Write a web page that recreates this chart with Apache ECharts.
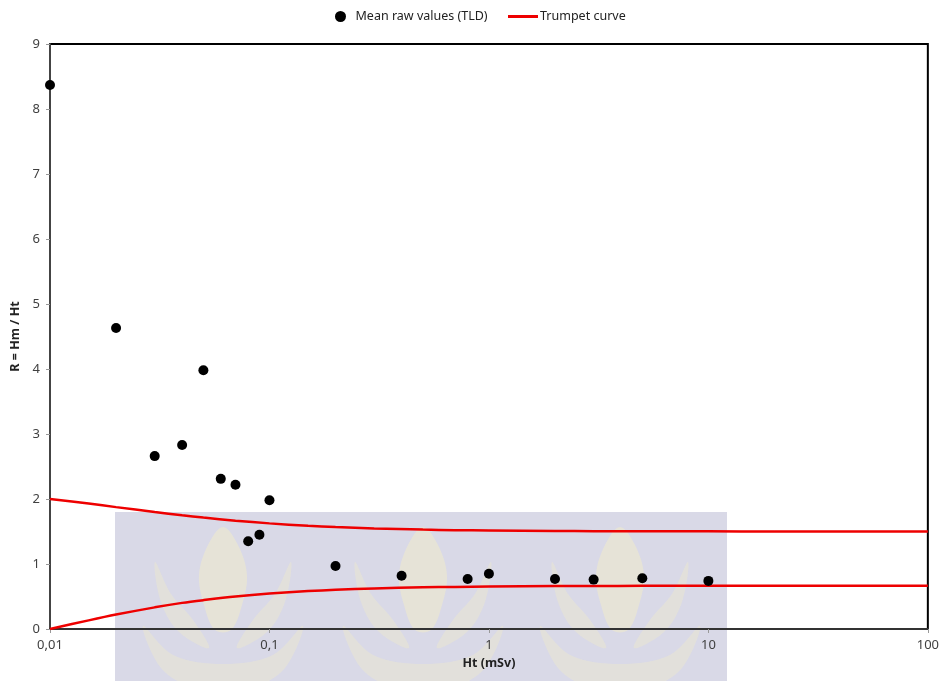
<!DOCTYPE html>
<html>
<head>
<meta charset="utf-8">
<script src="https://cdn.jsdelivr.net/npm/echarts@6/dist/echarts.min.js"></script>
<style>
  html, body { margin: 0; padding: 0; background: #fff; }
  #chart { width: 942px; height: 681px; }
</style>
</head>
<body>
<div id="chart"></div>
<script>
// Mean raw TLD readings: Ht (mSv) and R = Hm / Ht
var htValues = [0.01, 0.02, 0.03, 0.04, 0.05, 0.06, 0.07, 0.08, 0.09, 0.1, 0.2, 0.4, 0.8, 1, 2, 3, 5, 10];
var rValues  = [8.37, 4.63, 2.66, 2.83, 3.98, 2.31, 2.22, 1.35, 1.45, 1.98, 0.97, 0.82, 0.77, 0.85, 0.77, 0.76, 0.78, 0.74];

// Trumpet curve limits
var curveHt    = [0.01, 0.015, 0.02, 0.03, 0.04, 0.05, 0.07, 0.1, 0.15, 0.2, 0.3, 0.5, 0.7, 1, 2, 3, 5, 10, 20, 50, 100];
var upperLimit = [2.00, 1.93, 1.875, 1.80, 1.75, 1.714, 1.667, 1.625, 1.588, 1.568, 1.547, 1.529, 1.521, 1.515, 1.507, 1.505, 1.503, 1.502, 1.501, 1.500, 1.500];
var lowerLimit = [0.00, 0.133, 0.222, 0.333, 0.402, 0.444, 0.500, 0.545, 0.583, 0.603, 0.624, 0.641, 0.648, 0.654, 0.660, 0.662, 0.664, 0.665, 0.666, 0.667, 0.667];

function pairs(xs, ys) {
  return xs.map(function (x, i) { return [x, ys[i]]; });
}

// Background emblem: tinted panel with three pale flame motifs
var leafShapes = [
  { pts: [[0, 527], [15, 545], [24, 575], [19, 605], [8, 630], [-8, 630], [-19, 605], [-24, 575], [-15, 545]], a: 0.4 },
  { pts: [[-14, 648], [-44, 632], [-62, 602], [-68, 562], [-52, 594], [-30, 620]], a: 0.3 },
  { pts: [[14, 648], [44, 632], [62, 602], [68, 562], [52, 594], [30, 620]], a: 0.3 },
  { pts: [[-80, 626], [-62, 668], [-30, 688], [0, 692], [30, 688], [62, 668], [80, 626], [50, 655], [0, 664], [-50, 655]], a: 0.3 }
];

function flame(cx) {
  return leafShapes.map(function (s) {
    return {
      type: 'polygon', z: -10, silent: true,
      shape: { points: s.pts.map(function (p) { return [p[0] + cx, p[1]]; }), smooth: 0.35 },
      style: { fill: 'rgba(250,242,192,' + s.a + ')' }
    };
  });
}

var emblem = [
  { type: 'rect', z: -11, silent: true,
    shape: { x: 115, y: 512, width: 612, height: 169 },
    style: { fill: '#d9d9e7' } }
].concat(flame(223), flame(423), flame(620));

var chart = echarts.init(document.getElementById('chart'), null, { renderer: 'canvas' });

var labelFont = { color: '#404040', fontSize: 13, fontFamily: 'Noto Sans' };
var legendText = { color: '#222', fontSize: 12.5, fontFamily: 'Noto Sans' };

chart.setOption({
  animation: false,
  backgroundColor: '#fff',
  graphic: emblem,
  legend: [
    {
      top: 5,
      left: 330,
      itemWidth: 14,
      itemHeight: 11,
      textStyle: Object.assign({ padding: [0, 0, 0, 3] }, legendText),
      data: [{ name: 'Mean raw values (TLD)', icon: 'circle', itemStyle: { color: '#000', opacity: 1 } }]
    },
    {
      top: 5,
      left: 503,
      itemWidth: 30,
      itemHeight: 3,
      itemGap: 4,
      textStyle: Object.assign({ padding: [0, 0, 0, -3] }, legendText),
      data: [{ name: 'Trumpet curve', icon: 'rect', itemStyle: { color: '#ee0000' } }]
    }
  ],
  grid: {
    left: 50, right: 13, top: 44, bottom: 52,
    show: true,
    backgroundColor: 'transparent',
    borderColor: '#000',
    borderWidth: 2
  },
  xAxis: {
    type: 'log',
    logBase: 10,
    min: 0.01,
    max: 100,
    name: 'Ht (mSv)',
    nameLocation: 'middle',
    nameGap: 27,
    nameTextStyle: { color: '#222', fontSize: 12.5, fontWeight: 'bold', fontFamily: 'Noto Sans' },
    axisLine: { lineStyle: { color: '#333', width: 2 } },
    axisTick: { show: true, length: 4, lineStyle: { color: '#999' } },
    minorTick: { show: false },
    splitLine: { show: false },
    axisLabel: Object.assign({
      margin: 10,
      formatter: function (v) {
        return String(Number(v.toPrecision(6))).replace('.', ',');
      }
    }, labelFont)
  },
  yAxis: {
    type: 'value',
    min: 0,
    max: 9,
    interval: 1,
    name: 'R = Hm / Ht',
    nameLocation: 'middle',
    nameGap: 25,
    nameTextStyle: { color: '#222', fontSize: 12.5, fontWeight: 'bold', fontFamily: 'Noto Sans' },
    axisLine: { show: true, lineStyle: { color: '#444', width: 2 } },
    axisTick: { show: true, length: 4, lineStyle: { color: '#999' } },
    splitLine: { show: false },
    axisLabel: Object.assign({ margin: 10 }, labelFont)
  },
  series: [
    {
      name: 'Mean raw values (TLD)',
      type: 'scatter',
      z: 5,
      symbol: 'circle',
      symbolSize: 10,
      itemStyle: { color: '#000', opacity: 1 },
      data: pairs(htValues, rValues)
    },
    {
      name: 'Trumpet curve',
      type: 'line',
      z: 4,
      smooth: 0.3,
      showSymbol: false,
      symbol: 'none',
      itemStyle: { color: '#ee0000' },
      lineStyle: { color: '#ee0000', width: 2.5 },
      data: pairs(curveHt, upperLimit)
    },
    {
      name: 'Trumpet curve',
      type: 'line',
      z: 4,
      smooth: 0.3,
      showSymbol: false,
      symbol: 'none',
      itemStyle: { color: '#ee0000' },
      lineStyle: { color: '#ee0000', width: 2.5 },
      data: pairs(curveHt, lowerLimit)
    }
  ]
});
</script>
</body>
</html>
